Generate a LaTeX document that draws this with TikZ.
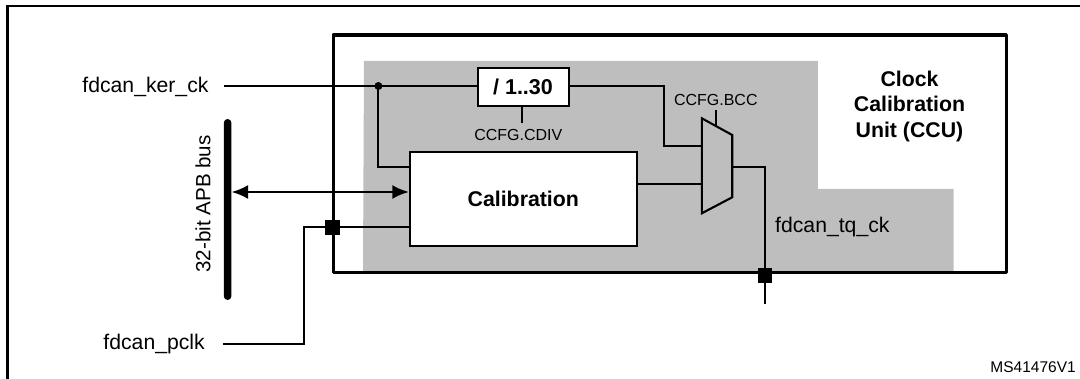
\documentclass[tikz,border=0pt]{standalone}
\usepackage{fontspec}
\setmainfont{Liberation Sans}
\usetikzlibrary{arrows.meta}
\definecolor{ccugray}{HTML}{BEBEBE}
\tikzset{
  wire/.style={line width=2.1pt,line cap=rect,line join=miter},
  frameline/.style={line width=2.3pt},
  blockbox/.style={draw=black,fill=white,line width=2pt,inner sep=0pt,align=center},
  pinsq/.style={fill=black,draw=none,minimum width=14.5pt,minimum height=14.5pt,inner sep=0pt},
  sig/.style={inner sep=0pt,font=\fontsize{21.2}{25}\selectfont},
  reg/.style={inner sep=0pt,font=\fontsize{16}{19}\selectfont},
  dblarrow/.style={line width=2.1pt,{Latex[length=16.5pt,width=14pt]}-{Latex[length=16.5pt,width=14pt]}}
}
\begin{document}
\begin{tikzpicture}[x=1pt,y=-1pt]
\useasboundingbox (0,0) rectangle (1080,379);
% outer figure frame
\coordinate (fbl) at (7.6,379);
\coordinate (ftl) at (7.6,5.7);
\coordinate (ftr) at (1080,5.7);
\draw[frameline] (fbl) -- (ftl) -- (ftr);
% grey area
\fill[ccugray] (364,61) -- (817.9,61) -- (817.9,189) -- (953.6,189) -- (953.6,272) -- (363,272) -- cycle;
% CCU box
\node[draw=black,line width=3.4pt,line join=round,inner sep=0pt,minimum width=673pt,minimum height=237.7pt] (ccu) at (669.8,153.8) {};
% blocks
\node[blockbox,minimum width=91pt,minimum height=38.3pt,font=\fontsize{21.5}{25}\selectfont\bfseries] (div) at (523,86.9) {/ 1..30};
\node[blockbox,minimum width=227pt,minimum height=94.3pt,font=\fontsize{21.3}{25}\selectfont\bfseries] (cal) at (523.3,199.2) {Calibration};
% bus
\node[fill=black,draw=none,rounded corners=3.8pt,minimum width=7.6pt,minimum height=181pt,inner sep=0pt] (bus) at (227.6,209.5) {};
\node[inner sep=0pt,font=\fontsize{20.6}{25}\selectfont,rotate=90] (buslbl) at (203,204) {32-bit APB bus};
% labels
\node[sig,anchor=east] (kerlbl) at (208.7,87) {fdcan\_ker\_ck};
\node[sig,anchor=east] (pclklbl) at (205,344) {fdcan\_pclk};
\node[sig,anchor=west] (tqlbl) at (775,227) {fdcan\_tq\_ck};
\node[reg] (cdivlbl) at (518.3,134.5) {CCFG.CDIV};
\node[reg] (bcclbl) at (715.8,100) {CCFG.BCC};
\node[inner sep=0pt,font=\fontsize{21.3}{25.5}\selectfont\bfseries,align=center] (ccuname) at (909.5,106) {Clock\\Calibration\\Unit (CCU)};
\node[inner sep=0pt,font=\fontsize{15.5}{18}\selectfont,anchor=east] (ver) at (1076,366.7) {MS41476V1};
% mux
\coordinate (muxa) at (701.8,118.3);
\coordinate (muxb) at (732.2,135);
\coordinate (muxc) at (732.2,197.3);
\coordinate (muxd) at (701.8,213.3);
\draw[line width=2.1pt,line join=miter,fill=ccugray] (muxa) -- (muxb) -- (muxc) -- (muxd) -- cycle;
% free ends and junctions
\coordinate (kerstart) at (225,86);
\coordinate (kerdot) at (378.4,86);
\coordinate (pclkstart) at (224.5,344.3);
\coordinate (tqend) at (764.9,303);
\coordinate (cdivend) at (521.7,122);
\coordinate (bccend) at (716,111);
\coordinate (bcctip) at (716,126);
\node[pinsq] (pinp) at (332.6,227.3) {};
\node[pinsq] (pintq) at (764.9,275.3) {};
% connectors
\draw[wire] (kerstart) -- (kerdot) -- (div.west |- kerdot);
\fill (kerdot) circle (4pt);
\draw[wire] (kerdot) |- (cal.west |- 0,167);
\draw[wire] (div.east |- kerdot) -| (664.3,146.3) -- (muxa |- 0,146.3);
\draw[wire] (cal.east |- 0,184) -- (muxa |- 0,184);
\draw[wire] (muxb |- 0,167) -| (tqend);
\draw[wire] (pclkstart) -| (304,227.3) -- (pinp.west);
\draw[wire] (pinp.east) -- (cal.west |- pinp);
\draw[dblarrow] (bus.east |- 0,192) -- (cal.west |- 0,192);
\draw[wire,line width=2.3pt] (div.south -| cdivend) -- (cdivend);
\draw[wire,line width=1.8pt] (bccend) -- (bcctip);
\end{tikzpicture}
\end{document}
